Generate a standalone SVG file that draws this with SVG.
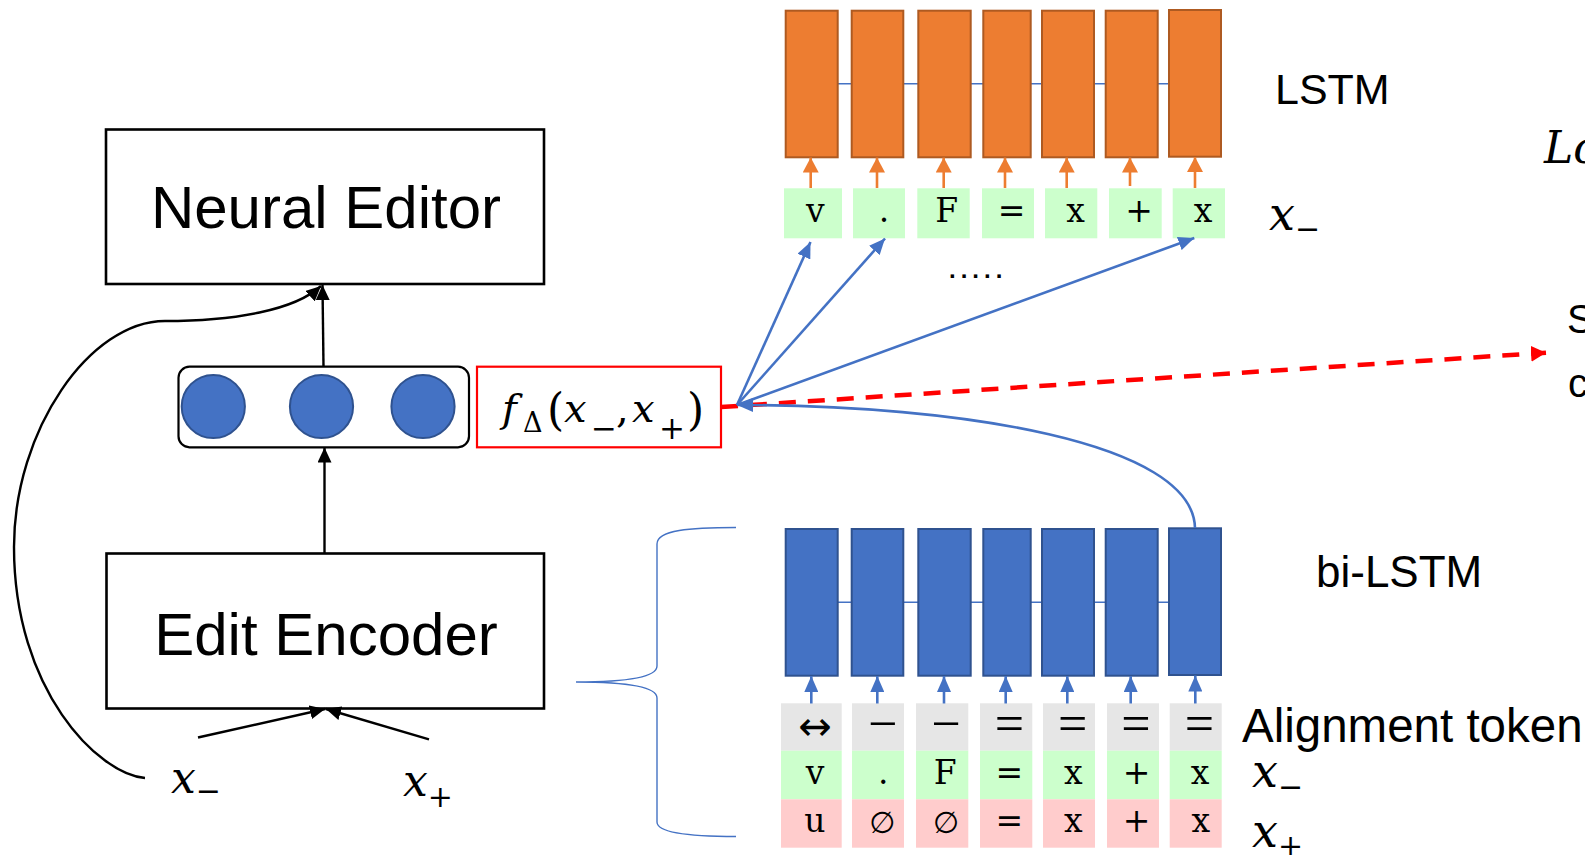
<svg xmlns="http://www.w3.org/2000/svg" width="1585" height="855" viewBox="0 0 1585 855">
  <style>
    .box{fill:#fff;stroke:#000;stroke-width:2.6}
    .lbl{font-family:"Liberation Sans",Arial,sans-serif;fill:#000}
    .math{font-family:"DejaVu Serif","Liberation Serif",serif;font-style:italic;fill:#000}
    .up{font-style:normal}
    .tok{font-family:"DejaVu Serif","Liberation Serif",serif;font-size:33px;text-anchor:middle;fill:#000}
    .sym{font-family:"Liberation Serif","Times New Roman",serif;font-size:52px;text-anchor:middle;fill:#000}
    .arr{font-family:"DejaVu Sans",sans-serif;font-size:40px;text-anchor:middle;fill:#000}
    .empty{font-family:"DejaVu Sans",sans-serif;font-size:30px;text-anchor:middle;fill:#000}
    .orange{fill:#ED7D31;stroke:#AE5A21;stroke-width:2}
    .blue{fill:#4472C4;stroke:#2F528F;stroke-width:2}
    .green{fill:#CCFFCC}
    .gray{fill:#E6E6E6}
    .pink{fill:#FFCCCC}
    .chain{stroke:#4472C4;stroke-width:1.4;fill:none}
    .inO{stroke:#ED7D31;stroke-width:2.6;marker-end:url(#hO)}
    .inB{stroke:#4472C4;stroke-width:2.6;marker-end:url(#hB)}
    .blk{stroke:#000;stroke-width:2.4;fill:none;marker-end:url(#hK)}
    .bl{stroke:#4472C4;stroke-width:2.6;fill:none;marker-end:url(#hB)}
  </style>
  <defs>
    <marker id="hO" viewBox="0 0 15 16" refX="15" refY="8" markerWidth="15" markerHeight="16" markerUnits="userSpaceOnUse" orient="auto">
      <path d="M0,0 L15,8 L0,16 z" fill="#ED7D31"/>
    </marker>
    <marker id="hB" viewBox="0 0 16 14" refX="16" refY="7" markerWidth="16" markerHeight="14" markerUnits="userSpaceOnUse" orient="auto">
      <path d="M0,0 L16,7 L0,14 z" fill="#4472C4"/>
    </marker>
    <marker id="hK" viewBox="0 0 15 14" refX="15" refY="7" markerWidth="15" markerHeight="14" markerUnits="userSpaceOnUse" orient="auto">
      <path d="M0,0 L15,7 L0,14 z" fill="#000"/>
    </marker>
    <marker id="hR" viewBox="0 0 15 16" refX="15" refY="8" markerWidth="15" markerHeight="16" markerUnits="userSpaceOnUse" orient="auto">
      <path d="M0,0 L15,8 L0,16 z" fill="#FF0000"/>
    </marker>
  </defs>

  <rect width="1585" height="855" fill="#fff"/>

  <!-- Neural Editor -->
  <g id="neural-editor">
    <rect class="box" x="106" y="129.5" width="438" height="154.5"/>
    <text class="lbl" x="326" y="228" font-size="60" text-anchor="middle">Neural Editor</text>
  </g>

  <!-- Edit Encoder -->
  <g id="edit-encoder">
    <rect class="box" x="106.5" y="553.5" width="437.5" height="155"/>
    <text class="lbl" x="326" y="655" font-size="60" text-anchor="middle">Edit Encoder</text>
  </g>

  <!-- edit vector (three units) -->
  <g id="edit-vector">
    <rect x="178.5" y="366.7" width="290.5" height="80.6" rx="11" fill="#fff" stroke="#000" stroke-width="2.2"/>
    <circle cx="213.3" cy="406.5" r="31.6" class="blue" stroke-width="1.6"/>
    <circle cx="321.5" cy="406.5" r="31.6" class="blue" stroke-width="1.6"/>
    <circle cx="423" cy="406.5" r="31.6" class="blue" stroke-width="1.6"/>
  </g>

  <!-- f_delta label -->
  <g id="f-delta">
    <rect x="477" y="366.7" width="244" height="80.6" fill="#fff" stroke="#FF0000" stroke-width="2.2"/>
    <text class="math" y="422" font-size="40">
      <tspan x="502">f</tspan><tspan class="up" x="523" y="432" font-size="27">Δ</tspan><tspan class="up" x="547" y="425" font-size="44">(</tspan><tspan x="564" y="422">x</tspan><tspan class="up" x="591" y="439" font-size="31">−</tspan><tspan class="up" x="616" y="422">,</tspan><tspan x="632" y="422">x</tspan><tspan class="up" x="659" y="439" font-size="31">+</tspan><tspan class="up" x="687" y="425" font-size="44">)</tspan>
    </text>
  </g>

  <!-- inputs on the left -->
  <g id="x-minus-in">
    <text class="math" x="171" y="793" font-size="44">x<tspan class="up" font-size="30" dy="7.6">−</tspan></text>
  </g>
  <g id="x-plus-in">
    <text class="math" x="403" y="795.5" font-size="44">x<tspan class="up" font-size="30" dy="11.5">+</tspan></text>
  </g>

  <!-- LSTM decoder cells -->
  <g id="lstm">
    <line class="chain" x1="837" y1="83.7" x2="1169" y2="83.7"/>
    <rect class="orange" x="785.7" y="10.7" width="52" height="146.6"/>
    <rect class="orange" x="851.7" y="10.7" width="51.6" height="146.6"/>
    <rect class="orange" x="918.3" y="10.7" width="52.4" height="146.6"/>
    <rect class="orange" x="983.3" y="10.7" width="47.4" height="146.6"/>
    <rect class="orange" x="1042" y="10.7" width="52" height="146.6"/>
    <rect class="orange" x="1105.7" y="10.7" width="52" height="146.6"/>
    <rect class="orange" x="1169" y="10" width="52" height="146.7"/>
    <text class="lbl" x="1275" y="104" font-size="43">LSTM</text>
  </g>

  <!-- decoder input tokens -->
  <g id="tokens-dec">
    <rect class="green" x="784" y="188.3" width="58" height="50"/>
    <rect class="green" x="853" y="188.3" width="52" height="50"/>
    <rect class="green" x="917.3" y="188.3" width="52.4" height="50"/>
    <rect class="green" x="982" y="188.3" width="52" height="50"/>
    <rect class="green" x="1045" y="188.3" width="52.3" height="50"/>
    <rect class="green" x="1109" y="188.3" width="52.7" height="50"/>
    <rect class="green" x="1172.7" y="188.3" width="52.3" height="50"/>
    <text class="tok" x="815.3" y="222">v</text>
    <text class="tok" x="884" y="222">.</text>
    <text class="tok" x="946.7" y="222">F</text>
    <text class="tok" x="1011.7" y="222">=</text>
    <text class="tok" x="1075.5" y="222">x</text>
    <text class="tok" x="1139" y="222">+</text>
    <text class="tok" x="1203" y="222">x</text>
    <text class="math" x="1269" y="230" font-size="46">x<tspan class="up" font-size="30" dy="8.6">−</tspan></text>
    <text x="949" y="277.5" font-family="Liberation Sans,Arial,sans-serif" font-weight="bold" font-size="24" letter-spacing="5">.....</text>
  </g>

  <!-- bi-LSTM encoder cells -->
  <g id="bilstm">
    <line class="chain" x1="837" y1="602.3" x2="1169" y2="602.3"/>
    <rect class="blue" x="785.7" y="529" width="52" height="146.7"/>
    <rect class="blue" x="851.7" y="529" width="51.6" height="146.7"/>
    <rect class="blue" x="918.3" y="529" width="52.4" height="146.7"/>
    <rect class="blue" x="983.3" y="529" width="47.4" height="146.7"/>
    <rect class="blue" x="1042" y="529" width="52" height="146.7"/>
    <rect class="blue" x="1105.7" y="529" width="52" height="146.7"/>
    <rect class="blue" x="1169" y="528.3" width="52" height="146.7"/>
    <text class="lbl" x="1316" y="586.5" font-size="44">bi-LSTM</text>
  </g>

  <!-- aligned token table -->
  <g id="tokens-enc">
    <rect class="gray" x="781" y="703.3" width="60.7" height="47.4"/>
    <rect class="gray" x="852" y="703.3" width="52" height="47.4"/>
    <rect class="gray" x="916" y="703.3" width="52.3" height="47.4"/>
    <rect class="gray" x="980" y="703.3" width="52.3" height="47.4"/>
    <rect class="gray" x="1043" y="703.3" width="52" height="47.4"/>
    <rect class="gray" x="1107" y="703.3" width="52" height="47.4"/>
    <rect class="gray" x="1169.7" y="703.3" width="52" height="47.4"/>

    <rect class="green" x="781" y="750.7" width="60.7" height="48.6"/>
    <rect class="green" x="852" y="750.7" width="52" height="48.6"/>
    <rect class="green" x="916" y="750.7" width="52.3" height="48.6"/>
    <rect class="green" x="980" y="750.7" width="52.3" height="48.6"/>
    <rect class="green" x="1043" y="750.7" width="52" height="48.6"/>
    <rect class="green" x="1107" y="750.7" width="52" height="48.6"/>
    <rect class="green" x="1169.7" y="750.7" width="52" height="48.6"/>

    <rect class="pink" x="781" y="799.3" width="60.7" height="48.4"/>
    <rect class="pink" x="852" y="799.3" width="52" height="48.4"/>
    <rect class="pink" x="916" y="799.3" width="52.3" height="48.4"/>
    <rect class="pink" x="980" y="799.3" width="52.3" height="48.4"/>
    <rect class="pink" x="1043" y="799.3" width="52" height="48.4"/>
    <rect class="pink" x="1107" y="799.3" width="52" height="48.4"/>
    <rect class="pink" x="1169.7" y="799.3" width="52" height="48.4"/>

    <text class="arr" x="815" y="740">↔</text>
    <text class="sym" x="882.7" y="741">−</text>
    <text class="sym" x="946" y="741">−</text>
    <text class="sym" x="1009.3" y="741">=</text>
    <text class="sym" x="1072.7" y="741">=</text>
    <text class="sym" x="1136" y="741">=</text>
    <text class="sym" x="1199.3" y="741">=</text>

    <text class="tok" x="815" y="784">v</text>
    <text class="tok" x="883.3" y="784">.</text>
    <text class="tok" x="945.3" y="784">F</text>
    <text class="tok" x="1009.3" y="784">=</text>
    <text class="tok" x="1073.3" y="784">x</text>
    <text class="tok" x="1136.7" y="784">+</text>
    <text class="tok" x="1200" y="784">x</text>

    <text class="tok" x="815" y="832">u</text>
    <text class="empty" x="882.3" y="833">∅</text>
    <text class="empty" x="946" y="833">∅</text>
    <text class="tok" x="1009.3" y="832">=</text>
    <text class="tok" x="1073.3" y="832">x</text>
    <text class="tok" x="1136.7" y="832">+</text>
    <text class="tok" x="1200.7" y="832">x</text>

    <text class="lbl" x="1242" y="742" font-size="47.5">Alignment token</text>
    <text class="math" x="1252" y="786.5" font-size="46">x<tspan class="up" font-size="30" dy="10">−</tspan></text>
    <text class="math" x="1252" y="846.5" font-size="46">x<tspan class="up" font-size="30" dy="9">+</tspan></text>
  </g>

  <!-- labels cut at the right edge -->
  <g id="right-labels">
    <text class="math" x="1544" y="162.5" font-size="44">Lo</text>
    <text class="lbl" x="1567" y="333.3" font-size="40">S</text>
    <text class="lbl" x="1568" y="396.7" font-size="40">c</text>
  </g>

  <!-- connectors -->
  <g id="connectors">
    <!-- token inputs into LSTM cells -->
    <line class="inO" x1="810.7" y1="188" x2="810.7" y2="157.5"/>
    <line class="inO" x1="877" y1="188" x2="877" y2="157.5"/>
    <line class="inO" x1="943.7" y1="188" x2="943.7" y2="157.5"/>
    <line class="inO" x1="1005" y1="188" x2="1005" y2="157.5"/>
    <line class="inO" x1="1066.7" y1="188" x2="1066.7" y2="157.5"/>
    <line class="inO" x1="1130" y1="186" x2="1130" y2="157.5"/>
    <line class="inO" x1="1195" y1="188" x2="1195" y2="157"/>

    <!-- aligned tokens into bi-LSTM cells -->
    <line class="inB" x1="811.3" y1="703.5" x2="811.3" y2="676"/>
    <line class="inB" x1="877.3" y1="703.5" x2="877.3" y2="676"/>
    <line class="inB" x1="944" y1="703.5" x2="944" y2="676"/>
    <line class="inB" x1="1005.7" y1="703.5" x2="1005.7" y2="676"/>
    <line class="inB" x1="1067.3" y1="703.5" x2="1067.3" y2="676"/>
    <line class="inB" x1="1130.7" y1="703.5" x2="1130.7" y2="676"/>
    <line class="inB" x1="1195.3" y1="703.5" x2="1195.3" y2="675.5"/>

    <!-- brace grouping the bi-LSTM encoder -->
    <path d="M736,527.5 C690,527.5 657,530 657,544 L657,666 C657,678 622,682 576,682 C622,682 657,686 657,698 L657,822 C657,833 690,836.5 736,836.5" fill="none" stroke="#4472C4" stroke-width="1.4"/>

    <!-- red dashed output -->
    <line x1="721" y1="407" x2="1546" y2="352.7" stroke="#FF0000" stroke-width="4.5" stroke-dasharray="17 12" marker-end="url(#hR)"/>

    <!-- bi-LSTM final state to f_delta -->
    <path class="bl" d="M1195,528 C1193,442 960,405 737,405"/>

    <!-- f_delta to decoder inputs -->
    <line class="bl" x1="737" y1="405" x2="810.5" y2="242"/>
    <line class="bl" x1="737" y1="405" x2="885" y2="238.5"/>
    <line class="bl" x1="737" y1="405" x2="1194.3" y2="238"/>

    <!-- black flow on the left -->
    <line class="blk" x1="324.5" y1="553" x2="324.5" y2="447.5"/>
    <line class="blk" x1="323.5" y1="366.7" x2="322.5" y2="285"/>
    <line class="blk" x1="198" y1="737.5" x2="325" y2="709"/>
    <line class="blk" x1="429" y1="739.3" x2="326" y2="709"/>
    <path class="blk" d="M145,778 C98,774 14,690 14,547 C14,430 90,321 165,321 C235,321 295,310 321,286"/>
  </g>
</svg>
